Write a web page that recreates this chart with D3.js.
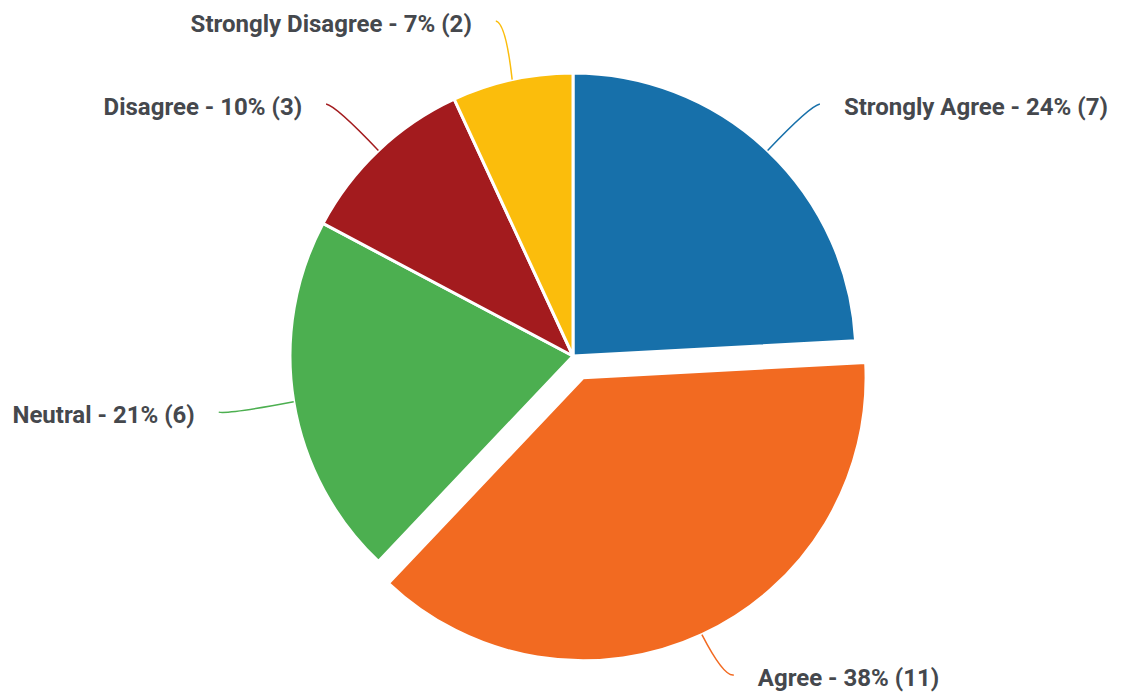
<!DOCTYPE html>
<html>
<head>
<meta charset="utf-8">
<script src="https://cdn.jsdelivr.net/npm/d3@7"></script>
<style>
  html, body { margin: 0; padding: 0; background: #fff; }
  svg { display: block; }
  text { font-family: Roboto, "Noto Sans", sans-serif; font-weight: 700; }
</style>
</head>
<body>
<svg id="chart" width="1125" height="692"></svg>
<script>
// Survey responses, in clockwise order from 12 o'clock
const categories = ["Strongly Agree", "Agree", "Neutral", "Disagree", "Strongly Disagree"];
const counts = [7, 11, 6, 3, 2];
const colors = ["#1770aa", "#f26a21", "#4caf50", "#a31b1e", "#fbbd0c"];
const explodedCategory = "Agree";

const W = 1125, H = 692;
const cx = 573, cy = 356;
const radius = 283;
const labelRx = 359, labelRy = 347;   // labels sit on a slightly flattened ring
const explodeDist = 24;
const labelGap = 24;
const topMargin = 21, bottomMargin = 17;

const svg = d3.select("#chart");
const g = svg.append("g").attr("transform", `translate(${cx},${cy})`);

const total = d3.sum(counts);
const data = categories.map((c, i) => ({ name: c, value: counts[i], color: colors[i] }));

const pie = d3.pie().value(d => d.value).sort(null);
const arc = d3.arc().innerRadius(0).outerRadius(radius);
const arcs = pie(data);

const polar = (rx, ry, a) => [rx * Math.sin(a), -ry * Math.cos(a)];

arcs.forEach(a => {
  const mid = (a.startAngle + a.endAngle) / 2;
  const off = a.data.name === explodedCategory ? polar(explodeDist, explodeDist, mid) : [0, 0];

  g.append("path")
    .attr("d", arc(a))
    .attr("transform", `translate(${off[0]},${off[1]})`)
    .attr("fill", a.data.color)
    .attr("stroke", "#fff")
    .attr("stroke-width", 3)
    .attr("stroke-linejoin", "round");

  // connector from the slice edge to the label, kept inside the canvas vertically
  const e = polar(radius, radius, mid);
  const start = [e[0] + off[0], e[1] + off[1]];
  const lp = polar(labelRx, labelRy, mid);
  const end = [lp[0] + off[0], lp[1] + off[1]];
  end[1] = Math.max(topMargin - cy, Math.min(H - bottomMargin - cy, end[1]));
  const right = Math.sin(mid) >= 0;
  const ctrl = [end[0] + (right ? -10 : 10), end[1] + 2];

  g.append("path")
    .attr("d", `M${start[0]},${start[1]} Q${ctrl[0]},${ctrl[1]} ${end[0]},${end[1]}`)
    .attr("fill", "none")
    .attr("stroke", a.data.color)
    .attr("stroke-width", 1.5);

  const pct = Math.round(a.data.value / total * 100);
  g.append("text")
    .attr("x", end[0] + (right ? labelGap : -labelGap))
    .attr("y", end[1] + 3)
    .attr("text-anchor", right ? "start" : "end")
    .attr("dominant-baseline", "central")
    .attr("font-size", 24)
    .attr("fill", "#45484d")
    .text(`${a.data.name} - ${pct}% (${a.data.value})`);
});
</script>
</body>
</html>
